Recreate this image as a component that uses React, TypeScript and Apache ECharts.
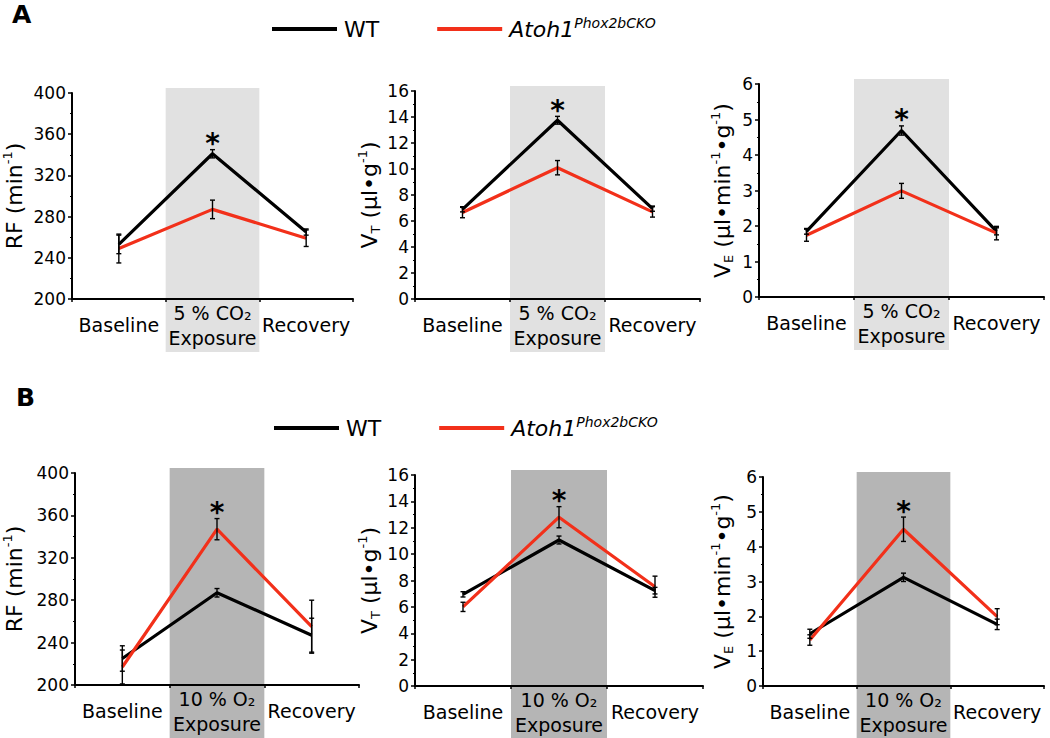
import React, { useEffect, useRef } from "react";
import * as echarts from "echarts";

const FONT = "DejaVu Sans";
const RED = "#f2301a";

const catsCO2 = ["Baseline", "5 % CO₂\nExposure", "Recovery"];
const catsO2 = ["Baseline", "10 % O₂\nExposure", "Recovery"];

// Panel A (5 % CO2)
const aRF_wt = [253, 341, 265];
const aRF_wtErr = [9, 4, 3];
const aRF_ko = [249, 287, 259];
const aRF_koErr = [14, 9, 8];
const aVT_wt = [6.9, 13.75, 6.95];
const aVT_wtErr = [0.2, 0.3, 0.2];
const aVT_ko = [6.65, 10.1, 6.7];
const aVT_koErr = [0.4, 0.55, 0.4];
const aVE_wt = [1.85, 4.69, 1.85];
const aVE_wtErr = [0.08, 0.13, 0.1];
const aVE_ko = [1.74, 2.99, 1.8];
const aVE_koErr = [0.17, 0.21, 0.19];

// Panel B (10 % O2)
const bRF_wt = [225, 287, 247];
const bRF_wtErr = [12, 4, 16];
const bRF_ko = [217, 347, 255];
const bRF_koErr = [16, 10, 25];
const bVT_wt = [6.95, 11.07, 7.23];
const bVT_wtErr = [0.2, 0.3, 0.25];
const bVT_ko = [6.0, 12.8, 7.53];
const bVT_koErr = [0.35, 0.8, 0.8];
const bVE_wt = [1.5, 3.12, 1.77];
const bVE_wtErr = [0.13, 0.12, 0.15];
const bVE_ko = [1.32, 4.5, 1.99];
const bVE_koErr = [0.15, 0.35, 0.23];

const starIndex = 1;

const rfName = "{n|RF (min}{sup|-1}{n|)}";
const vtName = "{n|V}{sub|T}{n| (µl•g}{sup|-1}{n|)}";
const veName = "{n|V}{sub|E}{n| (µl•min}{sup|-1}{n|•g}{sup|-1}{n|)}";

const panels = [
  { cats: catsCO2, wt: aRF_wt, wtErr: aRF_wtErr, ko: aRF_ko, koErr: aRF_koErr, min: 200, max: 400, interval: 40, name: rfName, nameGap: 45, band: "#e1e1e1", grid: { left: 68, top: 93, width: 285, height: 206 } },
  { cats: catsCO2, wt: aVT_wt, wtErr: aVT_wtErr, ko: aVT_ko, koErr: aVT_koErr, min: 0, max: 16, interval: 2, name: vtName, nameGap: 33, band: "#e1e1e1", grid: { left: 415, top: 91, width: 285, height: 208 } },
  { cats: catsCO2, wt: aVE_wt, wtErr: aVE_wtErr, ko: aVE_ko, koErr: aVE_koErr, min: 0, max: 6, interval: 1, name: veName, nameGap: 24, band: "#e1e1e1", grid: { left: 759, top: 84, width: 285, height: 213 } },
  { cats: catsO2, wt: bRF_wt, wtErr: bRF_wtErr, ko: bRF_ko, koErr: bRF_koErr, min: 200, max: 400, interval: 40, name: rfName, nameGap: 48, band: "#b5b5b5", grid: { left: 70, top: 473, width: 289, height: 212 } },
  { cats: catsO2, wt: bVT_wt, wtErr: bVT_wtErr, ko: bVT_ko, koErr: bVT_koErr, min: 0, max: 16, interval: 2, name: vtName, nameGap: 33, band: "#b5b5b5", grid: { left: 415, top: 475, width: 288, height: 211 } },
  { cats: catsO2, wt: bVE_wt, wtErr: bVE_wtErr, ko: bVE_ko, koErr: bVE_koErr, min: 0, max: 6, interval: 1, name: veName, nameGap: 28, band: "#b5b5b5", grid: { left: 763, top: 477, width: 281, height: 209 } },
];

function errRender(params: any, api: any) {
  const x = api.value(0);
  const lo = api.value(1);
  const hi = api.value(2);
  const star = api.value(3);
  const pHi = api.coord([x, hi]);
  if (star) {
    return {
      type: "text",
      style: {
        text: "*",
        x: pHi[0],
        y: pHi[1] - 6,
        align: "center",
        verticalAlign: "middle",
        fontSize: 28,
        fontWeight: "bold",
        fontFamily: FONT,
        fill: "#000",
      },
    };
  }
  const pLo = api.coord([x, lo]);
  const w = 2.5;
  const st = { stroke: "#000", lineWidth: 1.4 };
  return {
    type: "group",
    children: [
      { type: "line", shape: { x1: pHi[0], y1: pHi[1], x2: pLo[0], y2: pLo[1] }, style: st },
      { type: "line", shape: { x1: pHi[0] - w, y1: pHi[1], x2: pHi[0] + w, y2: pHi[1] }, style: st },
      { type: "line", shape: { x1: pLo[0] - w, y1: pLo[1], x2: pLo[0] + w, y2: pLo[1] }, style: st },
    ],
  };
}

function buildOption() {
  const grids: any[] = [];
  const xAxes: any[] = [];
  const yAxes: any[] = [];
  const series: any[] = [];
  panels.forEach((p, i) => {
    grids.push({ ...p.grid });
    xAxes.push({
      type: "category",
      gridIndex: i,
      data: p.cats,
      boundaryGap: true,
      axisLine: { lineStyle: { color: "#000", width: 2 } },
      axisTick: { show: true, length: 3, lineStyle: { color: "#000", width: 1.5 } },
      axisLabel: {
        color: "#000",
        fontFamily: FONT,
        fontSize: 19,
        lineHeight: 25,
        margin: 26,
        verticalAlign: "middle",
        interval: 0,
      },
      splitLine: { show: false },
    });
    yAxes.push({
      type: "value",
      gridIndex: i,
      min: p.min,
      max: p.max,
      interval: p.interval,
      name: p.name,
      nameLocation: "middle",
      nameGap: p.nameGap,
      nameRotate: 90,
      nameTextStyle: {
        color: "#000",
        fontFamily: FONT,
        rich: {
          n: { fontSize: 22, fontFamily: FONT, color: "#000", lineHeight: 26 },
          sup: { fontSize: 13, fontFamily: FONT, color: "#000", verticalAlign: "top", lineHeight: 15 },
          sub: { fontSize: 13, fontFamily: FONT, color: "#000", verticalAlign: "bottom", lineHeight: 15 },
        },
      },
      axisLine: { show: true, lineStyle: { color: "#000", width: 2 } },
      axisTick: { show: true, length: 4, lineStyle: { color: "#000", width: 1.5 } },
      minorTick: { show: true, splitNumber: 2, length: 2, lineStyle: { color: "#000", width: 1 } },
      axisLabel: { color: "#000", fontFamily: FONT, fontSize: 17, margin: 6 },
      splitLine: { show: false },
    });
    series.push({
      type: "line",
      name: "WT",
      xAxisIndex: i,
      yAxisIndex: i,
      data: p.wt,
      symbol: "none",
      color: "#000",
      lineStyle: { color: "#000", width: 3.2 },
      z: 2,
    });
    series.push({
      type: "line",
      name: "Atoh1",
      xAxisIndex: i,
      yAxisIndex: i,
      data: p.ko,
      symbol: "none",
      color: RED,
      lineStyle: { color: RED, width: 3.2 },
      z: 3,
    });
    const errData: any[] = [];
    p.wt.forEach((v, k) => errData.push([k, v - p.wtErr[k], v + p.wtErr[k], 0]));
    p.ko.forEach((v, k) => errData.push([k, v - p.koErr[k], v + p.koErr[k], 0]));
    const top = Math.max(p.wt[starIndex] + p.wtErr[starIndex], p.ko[starIndex] + p.koErr[starIndex]);
    errData.push([starIndex, top, top, 1]);
    series.push({
      type: "custom",
      name: "err",
      xAxisIndex: i,
      yAxisIndex: i,
      data: errData,
      encode: { x: 0, y: [1, 2] },
      renderItem: errRender,
      clip: false,
      z: 4,
    });
  });

  const legendBase = {
    data: ["WT", "Atoh1"],
    icon: "rect",
    itemWidth: 65,
    itemHeight: 4,
    itemGap: 58,
    selectedMode: false,
    orient: "horizontal",
    formatter: (name: string) => (name === "Atoh1" ? "{i|Atoh1}{s|Phox2bCKO}" : "{w|WT}"),
    textStyle: {
      color: "#000",
      fontFamily: FONT,
      fontSize: 22,
      padding: [0, 0, 0, 2],
      rich: {
        w: { fontSize: 22, fontFamily: FONT, color: "#000", lineHeight: 26 },
        i: { fontSize: 22, fontFamily: FONT, fontStyle: "italic", color: "#000", lineHeight: 26 },
        s: { fontSize: 14, fontFamily: FONT, fontStyle: "italic", color: "#000", verticalAlign: "top", lineHeight: 16 },
      },
    },
  };

  return {
    animation: false,
    backgroundColor: "#fff",
    legend: [
      { ...legendBase, left: 267, top: 11 },
      { ...legendBase, left: 269, top: 410 },
    ],
    grid: grids,
    xAxis: xAxes,
    yAxis: yAxes,
    series,
  };
}

export default function App() {
  const ref = useRef<HTMLDivElement>(null);
  useEffect(() => {
    if (!ref.current) return;
    const chart = echarts.init(ref.current, null, { renderer: "svg" });
    chart.setOption(buildOption() as any);
    const H = chart.getHeight();
    const graphics: any[] = [
      { type: "text", left: 12, top: 2, style: { text: "A", fontSize: 25, fontWeight: "bold", fontFamily: FONT, fill: "#000" } },
      { type: "text", left: 16, top: 385, style: { text: "B", fontSize: 25, fontWeight: "bold", fontFamily: FONT, fill: "#000" } },
    ];
    panels.forEach((p, i) => {
      const c1 = chart.convertToPixel({ xAxisIndex: i } as any, 1 as any) as any as number;
      const c2 = chart.convertToPixel({ xAxisIndex: i } as any, 2 as any) as any as number;
      const yTop = chart.convertToPixel({ yAxisIndex: i } as any, p.max as any) as any as number;
      const yBot = chart.convertToPixel({ yAxisIndex: i } as any, p.min as any) as any as number;
      const half = (c2 - c1) / 2;
      const bottom = i < 3 ? yBot + 53 : H;
      graphics.push({
        type: "rect",
        z: -1,
        shape: { x: c1 - half, y: yTop - 5, width: half * 2, height: bottom - (yTop - 5) },
        style: { fill: p.band },
      });
    });
    chart.setOption({ graphic: graphics } as any);
    return () => chart.dispose();
  }, []);
  return <div ref={ref} style={{ position: "fixed", left: 0, top: 0, width: 1050, height: 738 }} />;
}
